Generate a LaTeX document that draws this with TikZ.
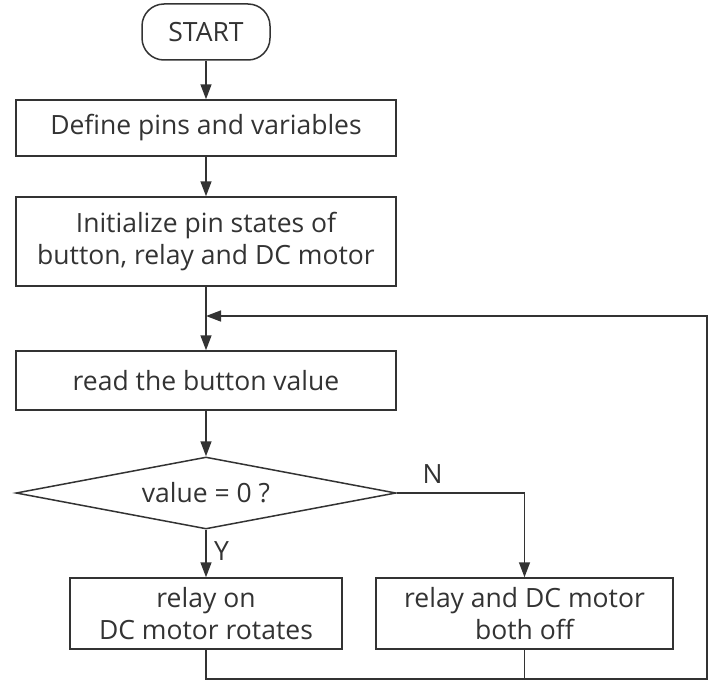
\documentclass[tikz,border=0pt]{standalone}
\usepackage{fontspec}
\setmainfont{Open Sans}
\usetikzlibrary{shapes.geometric,arrows.meta}
\definecolor{ink}{HTML}{333333}
\begin{document}
\begin{tikzpicture}[x=1pt,y=-1pt,line width=1.5pt,draw=ink,text=ink,
	font=\fontsize{26.5}{32}\selectfont,
	box/.style={draw,rectangle,align=center,inner sep=0pt},
	term/.style={box,rounded corners=22pt,minimum width=128pt,minimum height=56pt},
	decision/.style={draw,diamond,aspect=5.28,inner sep=0pt,minimum width=380pt,minimum height=72pt},
	flow/.style={-{Triangle[length=15pt,width=11pt]}}]
	\useasboundingbox (0,0) rectangle (717,693);
	\node[term] (start) at (206,32) {START};
	\node[box,minimum width=380pt,minimum height=56pt] (define) at (206,128) {Define pins and variables};
	\node[box,minimum width=380pt,minimum height=89pt] (init) at (206,241.5) {Initialize pin states of\\button, relay and DC motor};
	\node[box,minimum width=380pt,minimum height=59pt] (read) at (206,380.5) {read the button value};
	\node[decision] (cond) at (206,493) {value = 0 ?};
	\node[box,minimum width=272pt,minimum height=71pt] (yes) at (206,613.5) {relay on\\DC motor rotates};
	\node[box,minimum width=297pt,minimum height=71pt] (no) at (524.5,613.5) {relay and DC motor\\both off};
	\coordinate (merge) at (206,316);
	\coordinate (corner) at (707,679);
	% main column
	\draw[flow] (start) -- (define);
	\draw[flow] (define) -- (init);
	\draw[flow] (init) -- (read);
	\draw[flow] (read) -- (cond);
	\draw[flow] (cond) -- (yes) node[pos=0.45,right=4pt] {Y};
	\draw[flow] (cond.east) -| (no) node[pos=0.14,above=5pt] {N};
	% back to the loop
	\draw[flow] (yes.south) |- (corner) |- (merge);
	\draw (no.south) -- (no.south |- corner);
\end{tikzpicture}
\end{document}
